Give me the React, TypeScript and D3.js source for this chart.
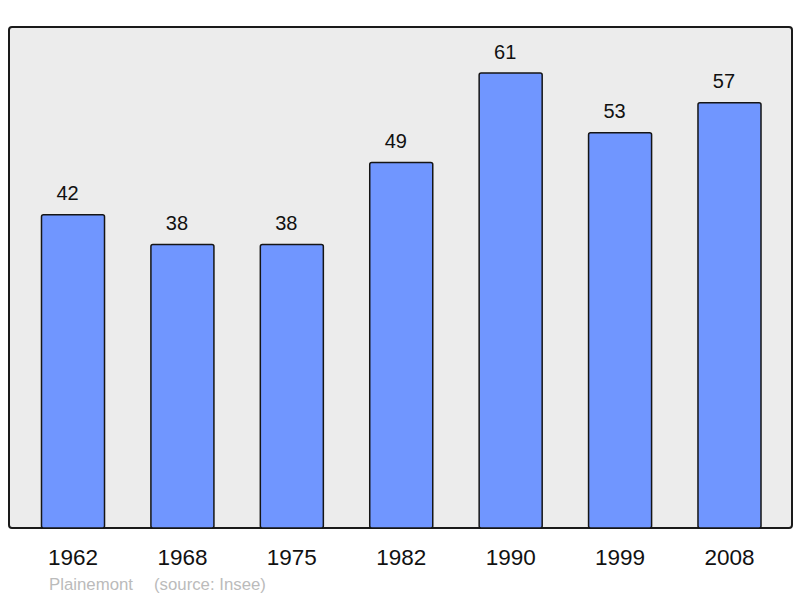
import React from "react";
import * as d3 from "d3";

const years = ["1962", "1968", "1975", "1982", "1990", "1999", "2008"];
const population = [42, 38, 38, 49, 61, 53, 57];
const townName = "Plainemont";
const sourceText = "(source: Insee)";

const App = () => {
  const width = 800;
  const height = 598;

  const frame = { left: 9, top: 27, right: 792, bottom: 528 };

  const x = d3
    .scaleBand()
    .domain(years)
    .range([18.3, 784.2])
    .paddingInner(0.424)
    .paddingOuter(0.212);

  const y = d3.scaleLinear().domain([0, 61]).range([frame.bottom, 73]);

  const font = "'Liberation Sans', Arial, sans-serif";

  return (
    <svg
      width={width}
      height={height}
      style={{ position: "absolute", left: 0, top: 0 }}
    >
      <rect
        x={frame.left}
        y={frame.top}
        width={frame.right - frame.left}
        height={frame.bottom - frame.top}
        rx={3}
        fill="#ececec"
        stroke="#1a1a1a"
        strokeWidth={2}
      />
      {years.map((yr, i) => (
        <g key={yr}>
          <rect
            x={x(yr)}
            y={y(population[i])}
            width={x.bandwidth()}
            height={frame.bottom - y(population[i])}
            rx={2}
            fill="#7096ff"
            stroke="#151515"
            strokeWidth={1.5}
          />
          <text
            x={(x(yr) as number) + x.bandwidth() / 2 - 5.5}
            y={y(population[i]) - 14.5}
            textAnchor="middle"
            fontFamily={font}
            fontSize={20}
            fill="#111"
          >
            {population[i]}
          </text>
          <text
            x={(x(yr) as number) + x.bandwidth() / 2}
            y={565}
            textAnchor="middle"
            fontFamily={font}
            fontSize={22.5}
            fill="#111"
          >
            {yr}
          </text>
        </g>
      ))}
      <text x={49} y={590} fontFamily={font} fontSize={16.8} fill="#bbbbbb">
        {townName}
      </text>
      <text x={154} y={590} fontFamily={font} fontSize={16.8} fill="#bbbbbb">
        {sourceText}
      </text>
    </svg>
  );
};

export default App;
